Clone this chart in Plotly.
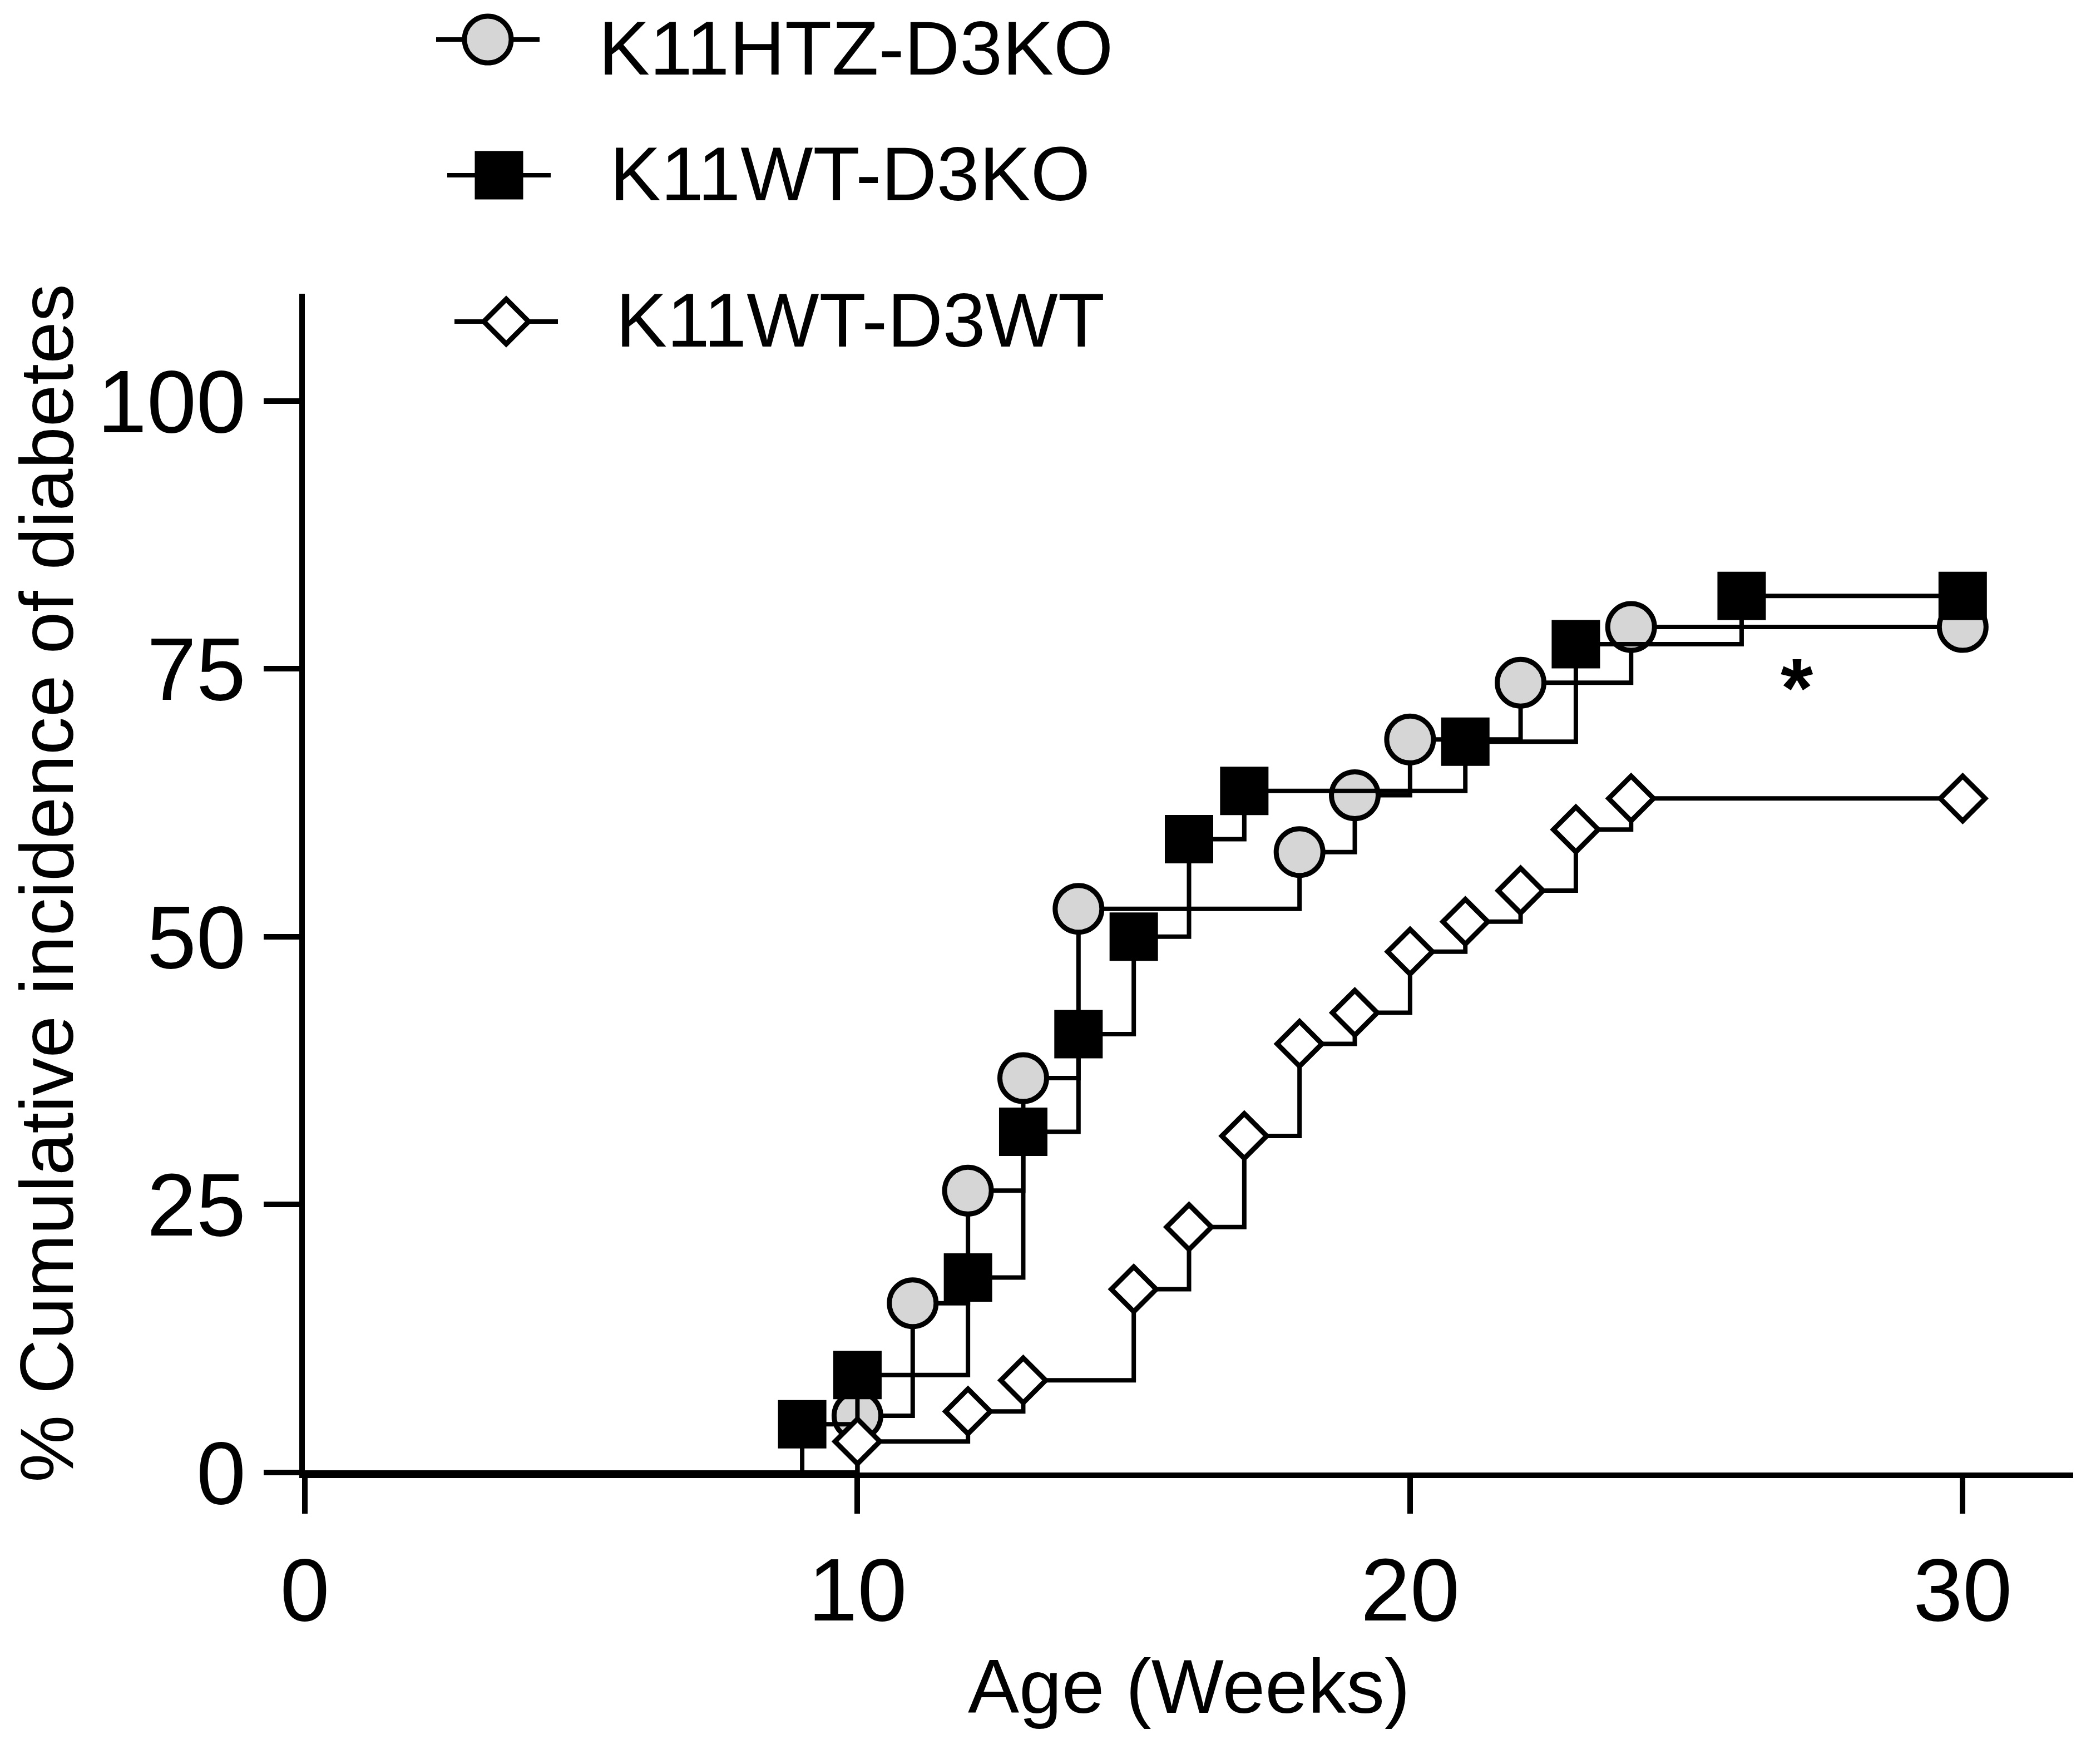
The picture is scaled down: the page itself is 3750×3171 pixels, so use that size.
import plotly.graph_objects as go

# cumulative incidence (%) by age in weeks
# first point (0, 0) is the start of each curve, it has no marker
weeks_htz_ko = [0, 10, 11, 12, 13, 14, 18, 19, 20, 22, 24, 30]
pct_htz_ko = [0, 5.3, 15.8, 26.3, 36.8, 52.6, 57.9, 63.2, 68.4, 73.7, 78.9, 78.9]

weeks_wt_ko = [0, 9, 10, 12, 13, 14, 15, 16, 17, 21, 23, 26, 30]
pct_wt_ko = [0, 4.5, 9.1, 18.2, 31.8, 40.9, 50.0, 59.1, 63.6, 68.2, 77.3, 81.8, 81.8]

weeks_wt_wt = [0, 10, 12, 13, 15, 16, 17, 18, 19, 20, 21, 22, 23, 24, 30]
pct_wt_wt = [0, 2.9, 5.7, 8.6, 17.1, 22.9, 31.4, 40.0, 42.9, 48.6, 51.4, 54.3, 60.0, 62.9, 62.9]

group_names = ["K11HTZ-D3KO", "K11WT-D3KO", "K11WT-D3WT"]
x_ticks = [0, 10, 20, 30]
y_ticks = [0, 25, 50, 75, 100]

FONT = "Liberation Sans Narrow, Arial Narrow, Liberation Sans, Arial, sans-serif"

# page body has an 8px margin, so the figure is a bit smaller than the window
OFF = 8
W, H = 3734, 3155
AX_X0, AX_X1 = 548, 3727      # page px of x = 0 and x = 32
AX_Y0, AX_YT = 2647, 528      # page px of y = 0 and y = 110
TOP = 20
L = AX_X0 - OFF
R = W - (AX_X1 - OFF)
B = H - (AX_Y0 - OFF)
T = TOP - OFF

styles = [
    dict(symbol="circle", size=84, color="#d6d6d6", line=dict(color="black", width=9)),
    dict(symbol="square", size=85, color="black", line=dict(color="black", width=2)),
    dict(symbol="diamond", size=62, color="white", line=dict(color="black", width=9)),
]

fig = go.Figure()

series = [(weeks_htz_ko, pct_htz_ko), (weeks_wt_ko, pct_wt_ko), (weeks_wt_wt, pct_wt_wt)]
for (xs, ys), name, st in zip(series, group_names, styles):
    fig.add_trace(go.Scatter(
        x=xs, y=ys, name=name, mode="lines+markers",
        line=dict(color="black", width=8, shape="hv"),
        marker=dict(st, opacity=[0] + [1] * (len(xs) - 1)),
        cliponaxis=False, showlegend=False,
    ))

# hand made legend on a hidden axis pair laid out in page pixels
leg_cx = [877, 897, 910]
leg_cy = [71, 315, 578]
leg_tx = [1074, 1094, 1105]
leg_ty = [86, 312, 575]
for i, (name, st) in enumerate(zip(group_names, styles)):
    cx = leg_cx[i]
    fig.add_trace(go.Scatter(
        x=[cx - 93, cx, cx + 93], y=[leg_cy[i]] * 3, mode="lines+markers",
        line=dict(color="black", width=8),
        marker=dict(st, opacity=[0, 1, 0]),
        xaxis="x2", yaxis="y2", showlegend=False, hoverinfo="skip",
    ))
    fig.add_annotation(
        x=leg_tx[i], y=leg_ty[i], xref="x2", yref="y2", text=name,
        showarrow=False, xanchor="left", yanchor="middle",
        font=dict(family=FONT, size=138, color="black"),
    )

fig.add_annotation(
    x=27, y=73.2, text="<b>*</b>", showarrow=False, xanchor="center", yanchor="middle",
    font=dict(family=FONT, size=150, color="black"),
)

ytop = (AX_Y0 - AX_YT) / (AX_Y0 - TOP)

axis_style = dict(
    showline=True, linewidth=10, linecolor="black",
    ticks="outside", ticklen=64, tickwidth=10, tickcolor="black",
    tickfont=dict(size=160), showgrid=False, zeroline=False,
)

fig.update_layout(
    width=W, height=H,
    margin=dict(l=L, r=R, t=T, b=B, autoexpand=False),
    paper_bgcolor="white", plot_bgcolor="rgba(0,0,0,0)",
    font=dict(family=FONT, color="black"),
    xaxis=dict(
        axis_style, range=[0, 32], tickvals=x_ticks,
        title=dict(text="Age (Weeks)", font=dict(size=138), standoff=40),
    ),
    yaxis=dict(
        axis_style, range=[0, 110], domain=[0, ytop], tickvals=y_ticks,
        title=dict(text="% Cumulative incidence of diabetes", font=dict(size=136), standoff=40),
    ),
    xaxis2=dict(domain=[0, 1], range=[AX_X0, AX_X1], anchor="y2", visible=False, fixedrange=True),
    yaxis2=dict(domain=[0, 1], range=[AX_Y0, TOP], anchor="x2", visible=False, fixedrange=True),
)

fig.write_html("out.html")
